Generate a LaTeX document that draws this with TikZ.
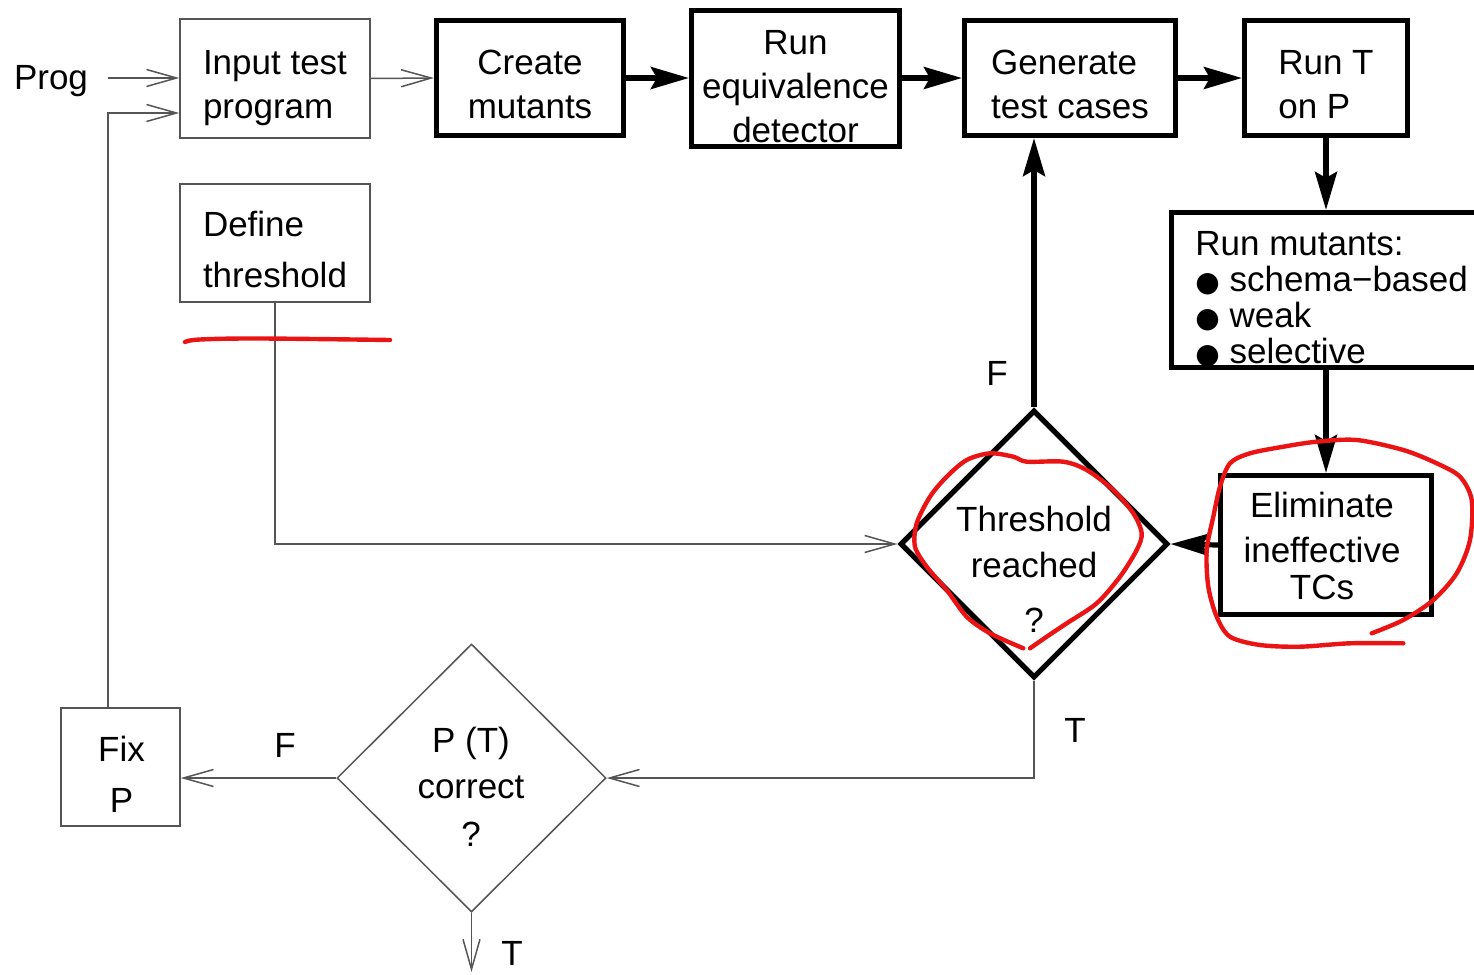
\documentclass[tikz,border=0pt]{standalone}
\usepackage{fontspec}
\setmainfont{Liberation Sans}
\newfontfamily\djv{DejaVu Sans}
\usetikzlibrary{arrows.meta,shapes.geometric}
\definecolor{lgray}{RGB}{85,85,85}
\definecolor{mred}{RGB}{235,20,20}
\newcommand{\bul}{{\djv\fontsize{14pt}{18pt}\selectfont ●}}
\begin{document}
\begin{tikzpicture}[x=0.5pt,y=-0.5pt,
  every node/.style={font=\fontsize{17.5pt}{22pt}\selectfont},
  thinbox/.style={draw=lgray, line width=0.75pt, rectangle, inner sep=0pt},
  thickbox/.style={draw=black, line width=2.6pt, rectangle, inner sep=0pt},
  thindiam/.style={draw=lgray, line width=0.75pt, diamond, inner sep=0pt, minimum width=134.5pt, minimum height=134pt},
  thickdiam/.style={draw=black, line width=2.6pt, diamond, inner sep=0pt, minimum width=134pt, minimum height=134pt},
  txt/.style={inner sep=0pt, align=center},
  tline/.style={draw=lgray, line width=0.75pt},
  tarrow/.style={tline, -{Straight Barb[length=15pt,width=8.5pt]}},
  karrow/.style={draw=black, line width=2.6pt, -{Stealth[length=19pt,width=11pt,inset=3pt]}},
  redmark/.style={draw=mred, line width=2.2pt, line cap=round, line join=round}
]
\useasboundingbox (0,0) rectangle (1474,975);
\clip (0,0) rectangle (1474,975);

% boxes
\node[thinbox, minimum width=95pt, minimum height=59.5pt] (inp) at (275,78.5) {};
\node[thickbox, minimum width=93.5pt, minimum height=57.5pt] (cm) at (530,78) {};
\node[thickbox, minimum width=104pt, minimum height=68pt] (red) at (795.5,78.5) {};
\node[thickbox, minimum width=105.5pt, minimum height=57.5pt] (gen) at (1070,78) {};
\node[thickbox, minimum width=81.5pt, minimum height=57.5pt] (runt) at (1326,78) {};
\node[thickbox, anchor=west, minimum width=180pt, minimum height=77.5pt] (rm) at (1169,290) {};
\node[thickbox, minimum width=105.5pt, minimum height=69.5pt] (elim) at (1326,545) {};
\node[thinbox, minimum width=95pt, minimum height=59pt] (def) at (275,243) {};
\node[thinbox, minimum width=59.5pt, minimum height=59pt] (fix) at (120.5,767) {};
\node[thickdiam] (thr) at (1034,544) {};
\node[thindiam] (pt) at (471.5,778) {};

% texts
\node[txt, align=left] (inpT) at (275,88) {Input test\\program};
\node[txt] (cmT) at (530,84.5) {Create\\mutants};
\node[txt] (redT) at (795.5,86.5) {Run\\equivalence\\detector};
\node[txt, align=left] (genT) at (1070,84.5) {Generate\\test cases};
\node[txt, align=left] (runtT) at (1326,84.5) {Run T\\on P};
\node[txt, align=left] (defT) at (275,249.7) {Define\\[3.5pt]threshold};
\node[txt, align=left, anchor=west, font=\fontsize{17.5pt}{18pt}\selectfont] (rmT) at (1195,299.5) {Run mutants:\\\bul\ schema−based\\\bul\ weak\\\bul\ selective};
\node[txt] (elimT) at (1322,545.7) {Eliminate\\[0.5pt]ineffective\\[-3.5pt]TCs};
\node[txt] (thrT) at (1034,569.7) {Threshold\\[1pt]reached\\[5.5pt]?};
\node[txt] (ptT) at (471,787) {P (T)\\[1pt]correct\\[2.2pt]?};
\node[txt] (fixT) at (121.5,774.7) {Fix\\[3.5pt]P};

% labels
\node[txt] (prog) at (51,81) {Prog};
\node[txt] (lF1) at (997,373) {F};
\node[txt] (lT1) at (1075,730) {T};
\node[txt] (lF2) at (285,745) {F};
\node[txt] (lT2) at (512,953) {T};

% free ends
\coordinate (progout) at (108,78);
\coordinate (fixout) at (108,708);
\coordinate (loopturn) at (108,113);
\coordinate (ptout) at (471.5,972);

% connectors
\draw[tarrow] (progout) -- (inp.west |- progout);
\draw[tarrow] (inp.east) -- (cm.west);
\draw[karrow] (cm.east) -- (red.west |- cm.east);
\draw[karrow] (red.east |- gen.west) -- (gen.west);
\draw[karrow] (gen.east) -- (runt.west);
\draw[karrow] (runt.south) -- (runt.south |- rm.north);
\draw[karrow] (elim.north |- rm.south) -- (elim.north);
\draw[karrow] (elim.west) -- (thr.east);
\draw[karrow] (thr.north) -- (thr.north |- gen.south);
\draw[tarrow] (def.south) |- (thr.west);
\draw[tarrow] (thr.south) |- (pt.east);
\draw[tarrow] (pt.west) -- (pt.west -| fix.east);
\draw[tarrow] (fixout) -- (loopturn) -- (loopturn -| inp.west);
\draw[tarrow] (pt.south) -- (ptout);

% red hand marks
\draw[redmark] plot[smooth, tension=0.6] coordinates {(185,342) (200,339.5) (260,338.5) (390,340)};
\draw[redmark] plot[smooth] coordinates {(1023.3,648.3) (990,633.3) (966.7,616.7) (946.7,590) (926.7,566.7) (915,546.7) (916.7,523.3) (930,496.7) (946.7,476.7) (966.7,460) (990,453.3) (1013.3,456.7) (1026.7,461.7) (1063.3,461.7) (1086.7,470) (1113.3,490) (1133.3,513.3) (1141.7,533.3) (1136.7,550) (1120,576.7) (1096.7,603.3) (1066.7,623.3) (1046.7,636.7) (1030,648.3)};
\draw[redmark] plot[smooth] coordinates {(1371.7,633.3) (1403.3,620) (1433.3,600) (1456.7,573.3) (1470,540) (1471.7,500) (1460,476.7) (1436.7,463.3) (1403.3,450) (1356.7,440) (1316.7,441.7) (1283.3,446.7) (1250,453.3) (1230,463.3) (1220,486.7) (1213.3,516.7) (1206.7,550) (1208.3,586.7) (1216.7,616.7) (1230,636.7) (1260,645) (1300,646.7) (1350,643.3) (1403.3,643.3)};
\end{tikzpicture}
\end{document}
